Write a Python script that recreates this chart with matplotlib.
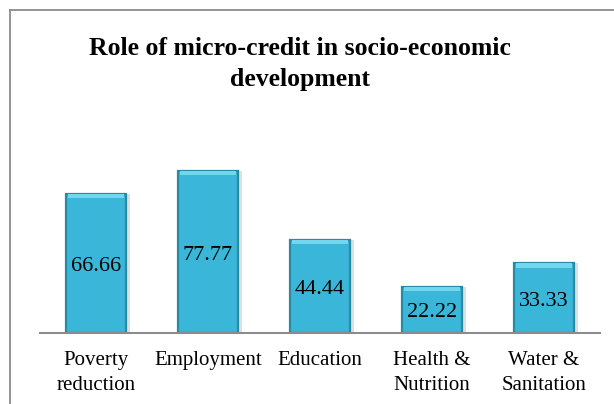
import matplotlib
matplotlib.use("Agg")
import matplotlib.pyplot as plt
from matplotlib.lines import Line2D
import numpy as np

categories = ["Poverty\nreduction", "Employment", "Education", "Health &\nNutrition", "Water &\nSanitation"]
values = [66.66, 77.77, 44.44, 22.22, 33.33]
value_labels = ["66.66", "77.77", "44.44", "22.22", "33.33"]
title = "Role of micro-credit in socio-economic\ndevelopment"

plt.rcParams['font.family'] = ['Liberation Serif', 'DejaVu Serif']

fig = plt.figure(figsize=(6.14, 4.04), dpi=100)
ax = fig.add_axes([40/614, 71/404, 560/614, 187.7/404])

x = np.arange(len(values))
# shadow
ax.bar(x + 0.03, values, width=0.54, color='#b8c4c8', alpha=0.5, zorder=1)
bars = ax.bar(x, values, width=0.54, color='#3ab6d8', edgecolor='#2a8aa5', linewidth=1.6, zorder=2)
# lighter top bevel strip derived from bar data
ax.bar(x, [2.0]*len(values), bottom=np.array(values) - 2.0, width=0.50, color='#72d6ee', linewidth=0, zorder=3)

for xi, v, lab in zip(x, values, value_labels):
    ax.text(xi, v / 2 - 1.5, lab, ha='center', va='center', fontsize=16, color='black', zorder=4)

ax.set_xlim(-0.5, 4.5)
ax.set_ylim(0, 90)
ax.set_xticks(x)
ax.set_xticklabels(categories, fontsize=15, linespacing=1.4)
ax.tick_params(axis='x', length=0, pad=13)
ax.set_yticks([])
for s in ['top', 'right', 'left']:
    ax.spines[s].set_visible(False)
ax.spines['bottom'].set_color('#8c8c8c')
ax.spines['bottom'].set_linewidth(1.5)

fig.text(300/614, 1 - 64/404, title, ha='center', va='center', fontsize=18.5,
         fontweight='bold', linespacing=1.45)

# chart border (top and left visible)
fig.add_artist(Line2D([10/614, 1.0], [1 - 10/404, 1 - 10/404], color='#8c8c8c', lw=1.3))
fig.add_artist(Line2D([10/614, 10/614], [0, 1 - 10/404], color='#8c8c8c', lw=1.3))

fig.savefig("out.png", dpi=100)
